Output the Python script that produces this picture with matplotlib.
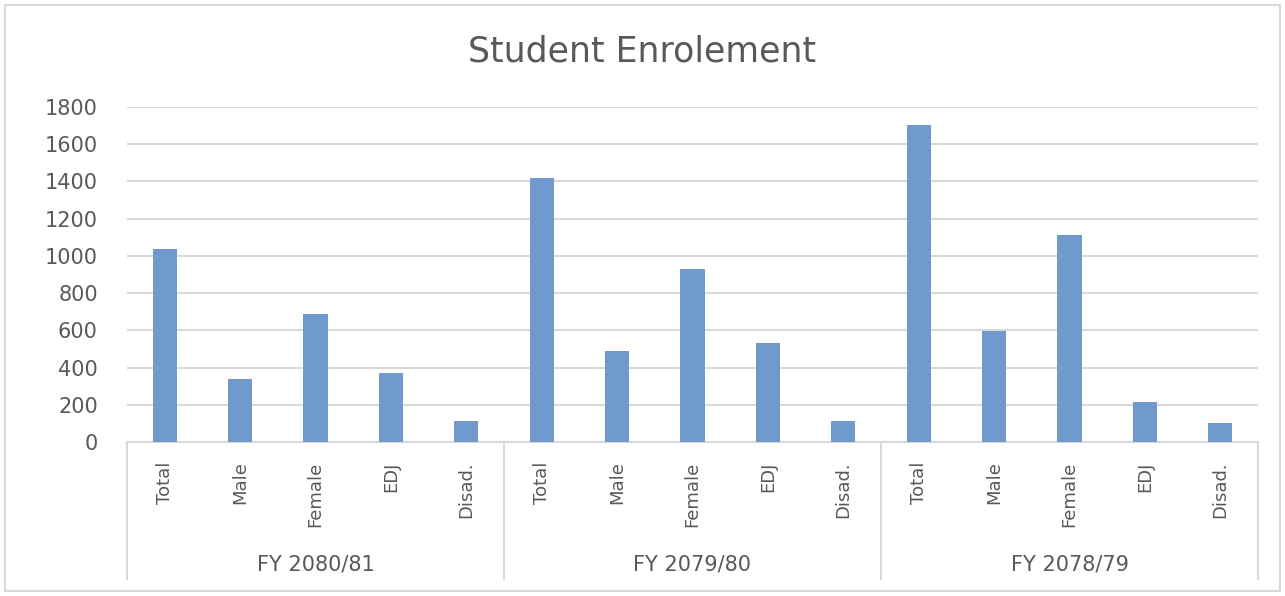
import matplotlib.pyplot as plt
from matplotlib.patches import Rectangle
import numpy as np

years = ['FY 2080/81', 'FY 2079/80', 'FY 2078/79']
cats = ['Total', 'Male', 'Female', 'EDJ', 'Disad.']
enrol_2080 = [1035, 340, 690, 370, 115]
enrol_2079 = [1420, 490, 930, 530, 115]
enrol_2078 = [1705, 595, 1110, 215, 100]

values = enrol_2080 + enrol_2079 + enrol_2078
labels = cats * len(years)
x = np.arange(len(values))

txt = '#595959'
grid = '#d9d9d9'

fig = plt.figure(figsize=(12.85, 5.96), dpi=100)
ax = fig.add_axes([0.0988, 0.2584, 0.8802, 0.5621])

ax.bar(x, values, width=0.32, color='#7099cc', zorder=3)
ax.set_xlim(-0.5, len(values) - 0.5)
ax.set_ylim(0, 1800)
ax.set_yticks(np.arange(0, 1801, 200))
ax.yaxis.grid(True, color=grid, lw=1.5, zorder=0)
for s in ['top', 'right', 'left']:
    ax.spines[s].set_visible(False)
ax.spines['bottom'].set_color(grid)
ax.spines['bottom'].set_linewidth(1.5)
ax.tick_params(axis='y', length=0, labelsize=15, labelcolor=txt, pad=21)
ax.tick_params(axis='x', length=0, pad=14)
ax.set_xticks(x)
ax.set_xticklabels(labels, rotation=90, fontsize=13, color=txt)

# multi-level category axis
tr = ax.get_xaxis_transform()
for b in np.arange(-0.5, len(values), len(cats)):
    ax.plot([b, b], [0, -0.41], transform=tr, color=grid, lw=1.5, clip_on=False)
for i, yr in enumerate(years):
    ax.text(i * len(cats) + 2, -0.365, yr, transform=tr, ha='center', va='center',
            fontsize=15, color=txt)

fig.text(0.5, 0.913, 'Student Enrolement', ha='center', va='center',
         fontsize=25, color=txt)
fig.patches.append(Rectangle((0.004, 0.008), 0.992, 0.984, transform=fig.transFigure,
                             fill=False, edgecolor=grid, lw=1.5))

fig.savefig('out.png', dpi=100)
